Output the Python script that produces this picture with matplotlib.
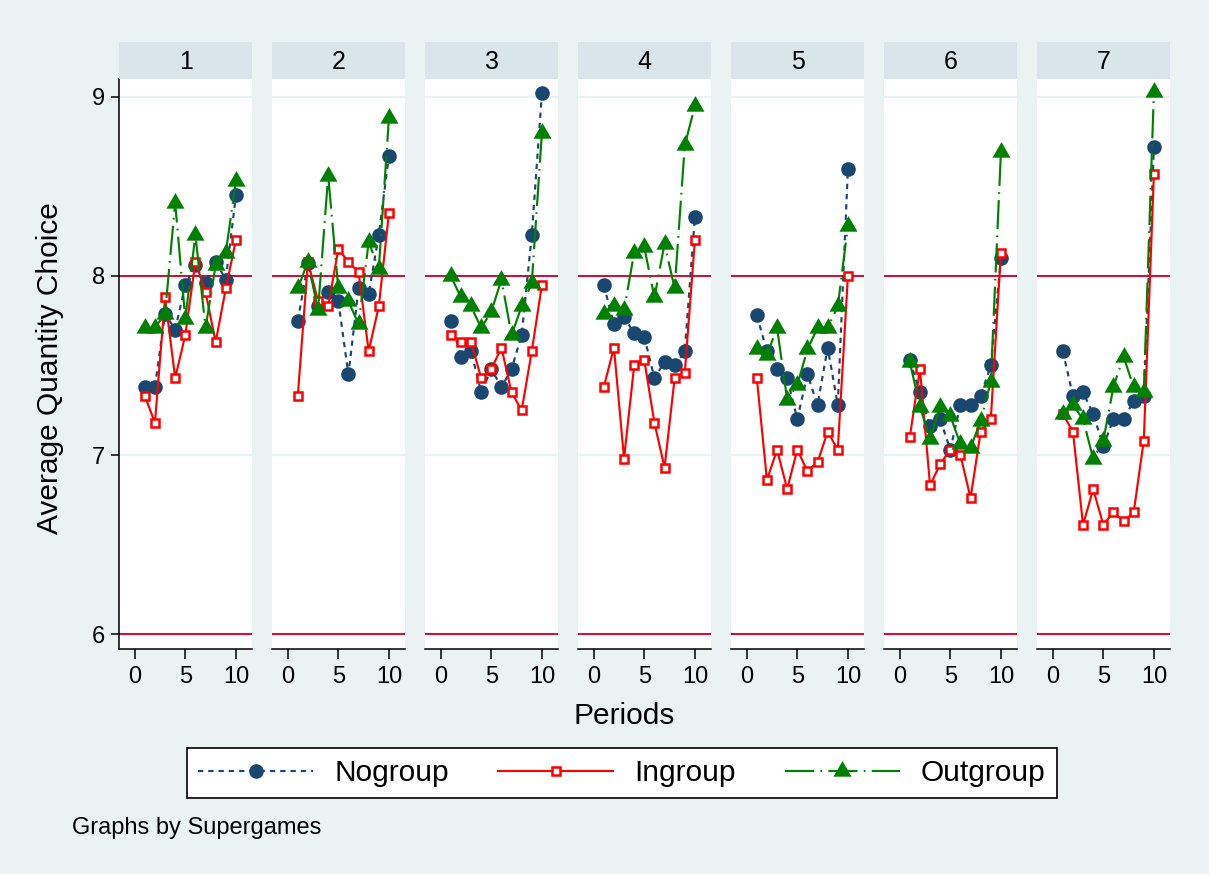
import matplotlib
matplotlib.use("Agg")
import matplotlib.pyplot as plt
from matplotlib.lines import Line2D

# =====================================================
# DATA: average quantity choice by period, per supergame
# =====================================================

PERIODS = [1, 2, 3, 4, 5, 6, 7, 8, 9, 10]
SUPERGAMES = ["1", "2", "3", "4", "5", "6", "7"]

NOGROUP = [
    [7.38, 7.38, 7.79, 7.70, 7.95, 8.06, 7.96, 8.08, 7.98, 8.45],
    [7.75, 8.07, 7.83, 7.91, 7.86, 7.45, 7.93, 7.90, 8.23, 8.67],
    [7.75, 7.55, 7.58, 7.35, 7.48, 7.38, 7.48, 7.67, 8.23, 9.02],
    [7.95, 7.73, 7.77, 7.68, 7.66, 7.43, 7.52, 7.50, 7.58, 8.33],
    [7.78, 7.58, 7.48, 7.43, 7.20, 7.45, 7.28, 7.60, 7.28, 8.60],
    [7.53, 7.35, 7.16, 7.20, 7.03, 7.28, 7.28, 7.33, 7.50, 8.10],
    [7.58, 7.33, 7.35, 7.23, 7.05, 7.20, 7.20, 7.30, 7.33, 8.72],
]

INGROUP = [
    [7.33, 7.18, 7.88, 7.43, 7.67, 8.08, 7.91, 7.63, 7.93, 8.20],
    [7.33, 8.08, 7.86, 7.83, 8.15, 8.08, 8.02, 7.58, 7.83, 8.35],
    [7.67, 7.63, 7.63, 7.43, 7.48, 7.60, 7.35, 7.25, 7.58, 7.95],
    [7.38, 7.60, 6.98, 7.50, 7.53, 7.18, 6.93, 7.43, 7.46, 8.20],
    [7.43, 6.86, 7.03, 6.81, 7.03, 6.91, 6.96, 7.13, 7.03, 8.00],
    [7.10, 7.48, 6.83, 6.95, 7.03, 7.00, 6.76, 7.13, 7.20, 8.13],
    [7.23, 7.13, 6.61, 6.81, 6.61, 6.68, 6.63, 6.68, 7.08, 8.57],
]

OUTGROUP = [
    [7.71, 7.71, 7.79, 8.41, 7.76, 8.23, 7.71, 8.06, 8.13, 8.53],
    [7.93, 8.08, 7.81, 8.56, 7.93, 7.86, 7.73, 8.19, 8.04, 8.88],
    [8.00, 7.88, 7.83, 7.71, 7.80, 7.98, 7.67, 7.83, 7.96, 8.80],
    [7.79, 7.83, 7.81, 8.13, 8.16, 7.88, 8.18, 7.93, 8.73, 8.95],
    [7.59, 7.56, 7.71, 7.31, 7.39, 7.59, 7.71, 7.71, 7.83, 8.28],
    [7.52, 7.27, 7.09, 7.27, 7.22, 7.06, 7.04, 7.19, 7.41, 8.69],
    [7.23, 7.28, 7.20, 6.98, 7.08, 7.38, 7.55, 7.38, 7.35, 9.03],
]

Y_TICKS = [6, 7, 8, 9]
X_TICKS = [0, 5, 10]
REF_LINES = [6, 8]
GRID_LINES = [7, 9]

# =====================================================
# STYLE
# =====================================================

plt.rcParams['font.family'] = ['Liberation Sans', 'DejaVu Sans']
plt.rcParams['lines.scale_dashes'] = False

BG = "#EAF2F3"
STRIP = "#D9E5EB"
NAVY = "#1A476F"
RED = "#FF0000"
GREEN = "#008000"
REFCOL = "#C8143F"

# equilateral triangle marker, centred on its centroid
TRI = [(-1, -0.577), (1, -0.577), (0, 1.155), (-1, -0.577)]

series = [
    dict(name="Nogroup", data=NOGROUP, color=NAVY, ls=(0, (3.8, 3.6)),
         marker="o", ms=10.5, mfc=NAVY, mew=0),
    dict(name="Ingroup", data=INGROUP, color=RED, ls="-",
         marker="s", ms=5.8, mfc="white", mew=1.8),
    dict(name="Outgroup", data=OUTGROUP, color=GREEN, ls=(0, (21, 4.5, 1.2, 4.5)),
         marker=TRI, ms=15, mfc=GREEN, mew=0),
]

# =====================================================
# FIGURE
# =====================================================

W, H = 1209, 874
fig = plt.figure(figsize=(W / 100, H / 100), dpi=100, facecolor=BG)

left0 = 119.3
step = 153.0
pw = 132.6
top = 79.0
bottom = 649.3
strip_top = 42.3

for i, sg in enumerate(SUPERGAMES):
    x0 = left0 + i * step
    ax = fig.add_axes([x0 / W, 1 - bottom / H, pw / W, (bottom - top) / H])
    ax.set_facecolor("white")
    ax.set_xlim(-1.52, 11.58)
    ax.set_ylim(5.915, 9.10)

    for g in GRID_LINES:
        ax.axhline(g, color=BG, lw=1.6, zorder=1)
    for r in REF_LINES:
        ax.axhline(r, color=REFCOL, lw=1.5, zorder=2)

    for s in series:
        ax.plot(PERIODS, s["data"][i], color=s["color"], linestyle=s["ls"],
                lw=1.55, marker=s["marker"], markersize=s["ms"],
                markerfacecolor=s["mfc"], markeredgecolor=s["color"],
                markeredgewidth=s["mew"], zorder=3)

    for side in ["top", "right"]:
        ax.spines[side].set_visible(False)
    ax.spines["bottom"].set_linewidth(1.1)
    ax.set_xticks(X_TICKS)
    ax.tick_params(axis="x", direction="out", length=7, width=1.1,
                   labelsize=17, pad=5)

    if i == 0:
        ax.spines["left"].set_linewidth(1.1)
        ax.set_yticks(Y_TICKS)
        ax.tick_params(axis="y", direction="out", length=6, width=1.1,
                       labelsize=17, pad=4)
    else:
        ax.spines["left"].set_visible(False)
        ax.set_yticks([])

    # supergame header strip
    sax = fig.add_axes([x0 / W, 1 - top / H, pw / W, (top - strip_top) / H])
    sax.set_facecolor(STRIP)
    sax.set_xticks([])
    sax.set_yticks([])
    for sp in sax.spines.values():
        sp.set_visible(False)
    sax.text(0.5, 0.47, sg, ha="center", va="center", fontsize=18,
             transform=sax.transAxes)

# axis titles
fig.text(50 / W, 1 - 368 / H, "Average Quantity Choice", rotation=90,
         ha="center", va="center", fontsize=21.5)
fig.text(624 / W, 1 - 716 / H, "Periods", ha="center", va="center",
         fontsize=21.5)

# =====================================================
# LEGEND
# =====================================================

handles = [
    Line2D([], [], color=s["color"], linestyle=s["ls"], lw=1.55,
           marker=s["marker"], markersize=s["ms"], markerfacecolor=s["mfc"],
           markeredgecolor=s["color"], markeredgewidth=s["mew"])
    for s in series
]
leg = fig.legend(handles, [s["name"] for s in series], loc="center",
                 bbox_to_anchor=(622 / W, 1 - 773 / H), ncol=3,
                 fontsize=21.5, frameon=True, fancybox=False,
                 edgecolor="black", facecolor="white", framealpha=1,
                 handlelength=3.85, handletextpad=0.7, columnspacing=1.65,
                 borderpad=0.38, numpoints=1)
leg.get_frame().set_linewidth(1.2)

fig.text(72 / W, 1 - 828 / H, "Graphs by Supergames", ha="left",
         va="center", fontsize=17)

fig.savefig("out.png", dpi=100, facecolor=BG)
